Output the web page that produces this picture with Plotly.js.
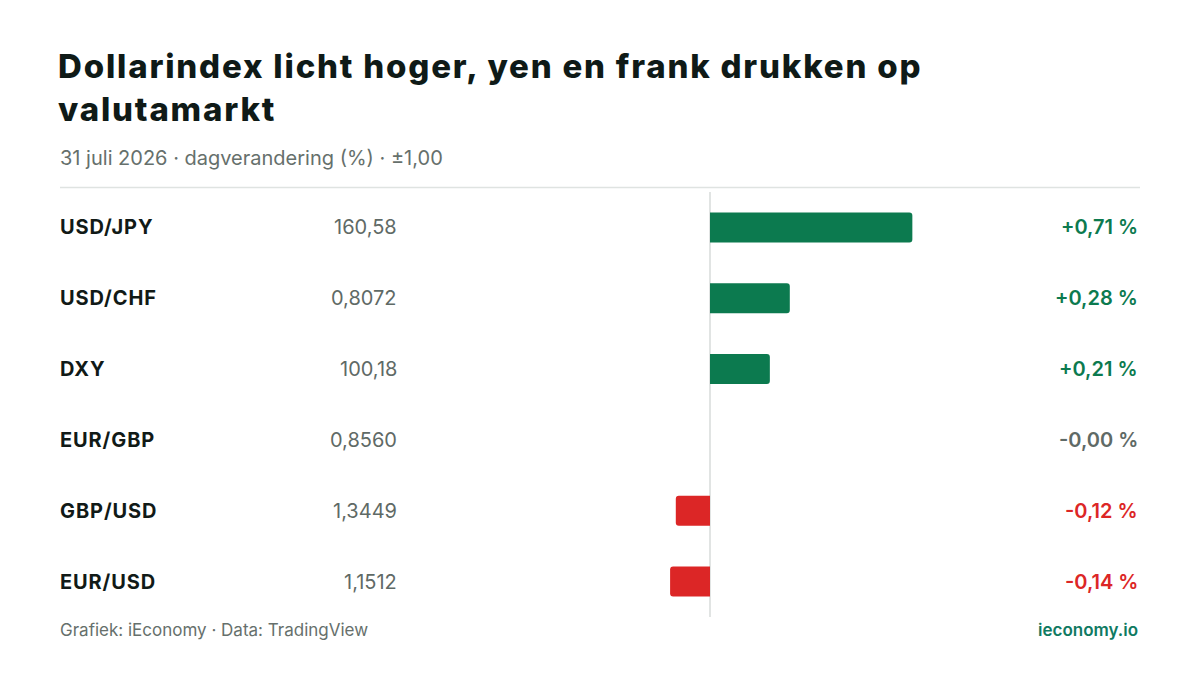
<!DOCTYPE html>
<html>
<head>
<meta charset="utf-8">
<script src="https://cdn.plot.ly/plotly-3.0.1.min.js"></script>
<style>
  html, body { margin: 0; padding: 0; background: #fff; }
  #chart { width: 1200px; height: 675px; }
</style>
</head>
<body>
<div id="chart"></div>
<script>
var titleLines = ['Dollarindex licht hoger, yen en frank drukken op', 'valutamarkt'];
var pairs = ['USD/JPY', 'USD/CHF', 'DXY', 'EUR/GBP', 'GBP/USD', 'EUR/USD'];
var rates = ['160,58', '0,8072', '100,18', '0,8560', '1,3449', '1,1512'];
// EUR/GBP shows -0,00: a negative zero
var changes = [0.71, 0.28, 0.21, -0, -0.12, -0.14];

var GREEN = '#0c7a4f';
var RED = '#dc2626';
var GREY = '#5f6a66';

// plot area: x 425..995 px, y 191.5..617.5 px
function px(x) { return (x - 425) / 570; }
function py(y) { return (617.5 - y) / 426; }

function isNeg(v) { return v < 0 || Object.is(v, -0); }
function fmt(v) {
    return (isNeg(v) ? '-' : '+') + Math.abs(v).toFixed(2).replace('.', ',') + ' %';
}
function colorOf(v) {
    if (Math.abs(v) < 0.005) return GREY;
    return v > 0 ? GREEN : RED;
}
function spaced(s, ls) {
    return '<span style="letter-spacing:' + ls + 'px">' + s + '</span>';
}

var trace = {
    type: 'bar',
    orientation: 'h',
    x: changes,
    y: pairs,
    marker: { color: changes.map(colorOf), cornerradius: 3, line: { width: 0 } },
    hoverinfo: 'skip'
};

var annotations = [];
pairs.forEach(function (p, i) {
    annotations.push({
        xref: 'paper', yref: 'y', x: px(58), y: p, xanchor: 'left', yanchor: 'middle',
        text: spaced(p, 0.9), showarrow: false,
        font: { family: 'Inter', size: 20, color: '#111a17', weight: 700 }
    });
    annotations.push({
        xref: 'paper', yref: 'y', x: px(399), y: p, xanchor: 'right', yanchor: 'middle',
        text: rates[i], showarrow: false,
        font: { family: 'Inter', size: 20, color: GREY }
    });
    annotations.push({
        xref: 'paper', yref: 'y', x: px(1140), y: p, xanchor: 'right', yanchor: 'middle',
        text: fmt(changes[i]), showarrow: false,
        font: { family: 'Inter', size: 20, color: colorOf(changes[i]), weight: 600 }
    });
});

annotations.push({
    xref: 'paper', yref: 'paper', x: px(58), y: py(157), xanchor: 'left', yanchor: 'middle',
    text: '31 juli 2026 · dagverandering (%) · ±1,00', showarrow: false,
    font: { family: 'Inter', size: 20, color: '#66706c' }
});
annotations.push({
    xref: 'paper', yref: 'paper', x: px(58), y: py(631), xanchor: 'left', yanchor: 'middle',
    text: 'Grafiek: iEconomy · Data: TradingView', showarrow: false,
    font: { family: 'Inter', size: 17, color: '#66706c' }
});
annotations.push({
    xref: 'paper', yref: 'paper', x: px(1140), y: py(631), xanchor: 'right', yanchor: 'middle',
    text: 'ieconomy.io', showarrow: false,
    font: { family: 'Inter', size: 17, color: '#0f7a62', weight: 600 }
});

var layout = {
    width: 1200,
    height: 675,
    paper_bgcolor: '#ffffff',
    plot_bgcolor: '#ffffff',
    margin: { l: 425, r: 205, t: 191.5, b: 57.5, pad: 0 },
    title: {
        text: titleLines.map(function (s) { return spaced(s, 1.8); }).join('<br>'),
        xref: 'container', yref: 'container',
        x: 58 / 1200, xanchor: 'left',
        y: 1 - 78 / 675, yanchor: 'middle',
        pad: { t: 0, b: 0, l: 0, r: 0 },
        font: { family: 'Inter', size: 33, color: '#0f1a17', weight: 800 }
    },
    showlegend: false,
    bargap: 0.577,
    xaxis: {
        range: [-1, 1],
        fixedrange: true,
        showgrid: false,
        showticklabels: false,
        ticks: '',
        zeroline: true,
        zerolinecolor: '#e1e4e3',
        zerolinewidth: 2
    },
    yaxis: {
        autorange: 'reversed',
        fixedrange: true,
        showgrid: false,
        showticklabels: false,
        ticks: '',
        zeroline: false
    },
    shapes: [{
        type: 'line', xref: 'paper', yref: 'paper',
        x0: px(60), x1: px(1140), y0: py(187), y1: py(187),
        line: { color: '#dfe3e1', width: 1.5 }
    }],
    annotations: annotations
};

Plotly.newPlot('chart', [trace], layout, { displayModeBar: false, staticPlot: true });
</script>
</body>
</html>
